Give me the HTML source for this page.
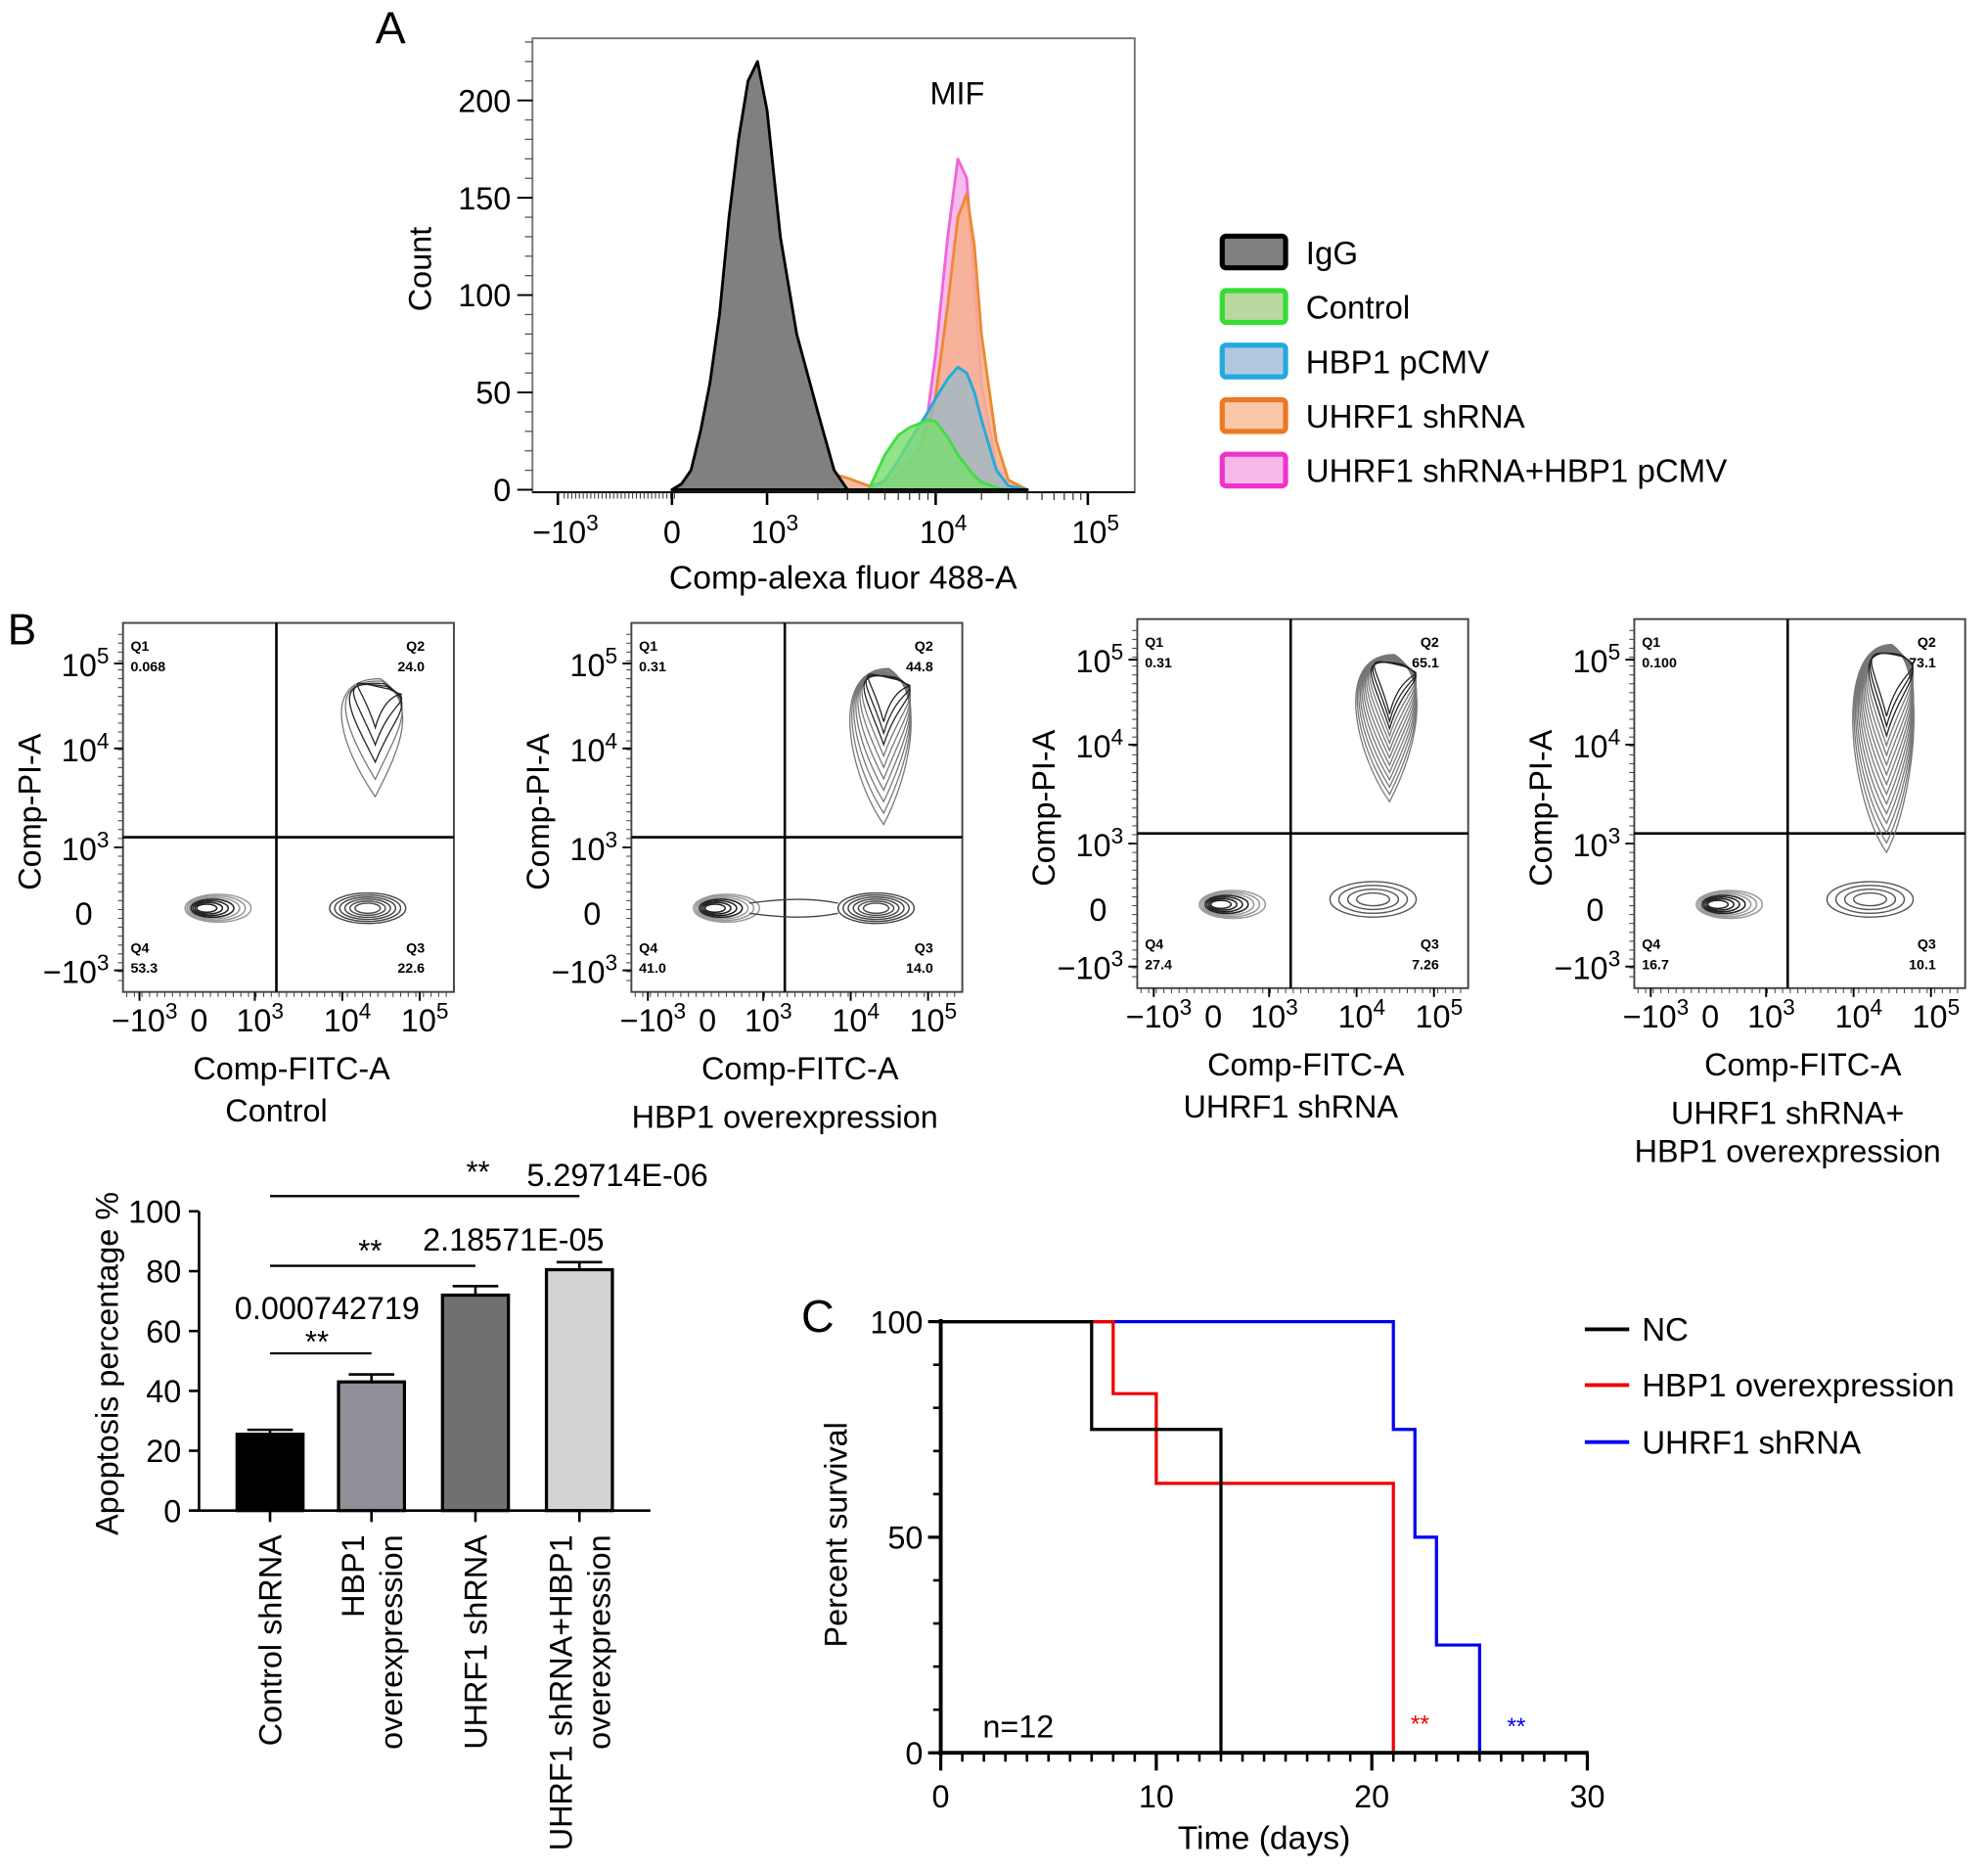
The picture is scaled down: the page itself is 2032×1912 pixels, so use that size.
<!DOCTYPE html>
<html><head><meta charset="utf-8"><style>
html,body{margin:0;padding:0;background:#fff;}
svg{display:block;font-family:"Liberation Sans",Arial,sans-serif;}
</style></head><body>
<svg id="fig" width="2032" height="1912" viewBox="0 0 1568 1475" xmlns="http://www.w3.org/2000/svg">
<g id="panelA"></g>
<g id="panelB"></g>
<g id="panelBar"></g>
<g id="panelC"></g>
</svg>
<script>
// ---------- Panel A data ----------
const histX = [0,100,200,300,400,500,600,700,800,900,1000,1200,1500,2000,2500,3000,4000,5000,6000,7000,8000,9000,10000,12000,14000,16000,18000,20000,25000,30000,40000];
const igG   = [0,3,10,30,55,90,140,180,210,220,195,130,80,40,10,0,0,0,0,0,0,0,0,0,0,0,0,0,0,0,0];
const pinkS = [0,0,0,0,0,0,0,0,0,0,0,0,0,0,0,0,0,0,2,8,20,40,70,130,170,160,105,55,12,2,0];
const orangeS=[0,0,0,1,2,3,4,5,5,6,7,8,9,10,8,6,2,4,8,14,22,32,48,95,140,152,125,80,25,5,0];
const blueS = [0,0,0,0,0,0,0,0,0,0,0,0,0,0,0,0,0,5,15,25,33,40,47,57,63,60,50,36,10,2,0];
const greenS= [0,0,0,0,0,0,0,0,0,0,0,0,0,0,0,0,0,18,28,32,34,36,35,27,18,12,7,4,1,0,0];
const histYTicks=[0,50,100,150,200];
const legendLabels=["IgG","Control","HBP1 pCMV","UHRF1 shRNA","UHRF1 shRNA+HBP1 pCMV"];
// ---------- Bar data ----------
const barCats=["Control shRNA","HBP1 overexpression","UHRF1 shRNA","UHRF1 shRNA+HBP1 overexpression"];
const barVals=[25.5,43,72,80.5];
const barErr=[1.5,2.5,3,2.5];
const barTicks=[0,20,40,60,80,100];
const sigLabels=["0.000742719","2.18571E-05","5.29714E-06"];
// ---------- Survival data ----------
const ncT=[0,7,13]; const ncS=[100,75,0];
const hbT=[0,8,10,21]; const hbS=[100,83.3,62.5,0];
const uhT=[0,21,22,23,25]; const uhS=[100,75,50,25,0];
const survXTicks=[0,10,20,30]; const survYTicks=[0,50,100];
// ---------- Flow quadrant values ----------
const quadVals=[["0.068","24.0","22.6","53.3"],["0.31","44.8","14.0","41.0"],["0.31","65.1","7.26","27.4"],["0.100","73.1","10.1","16.7"]];
const flowTitles=[["Control"],["HBP1 overexpression"],["UHRF1 shRNA"],["UHRF1 shRNA+","HBP1 overexpression"]];

const FS=25;
const NS="http://www.w3.org/2000/svg";
function el(parent,tag,attrs,text){const e=document.createElementNS(NS,tag);for(const k in attrs)e.setAttribute(k,attrs[k]);if(text!==undefined)e.textContent=text;parent.appendChild(e);return e;}
function supText(parent,x,y,base,sup,size,anchor){const t=el(parent,'text',{x:x,y:y,'font-size':size,'text-anchor':anchor||'middle'});t.textContent=base;const s=document.createElementNS(NS,'tspan');s.setAttribute('dy',-size*0.4);s.setAttribute('font-size',size*0.7);s.textContent=sup;t.appendChild(s);return t;}

// ===== Panel A =====
const A=document.getElementById('panelA');
const ax={l:420,r:895,t:30,b:386};
function hx(v){ if(v<=1000) return 530+v*0.075; const d=[[1000,605],[10000,738],[100000,858]]; for(let i=0;i<2;i++){if(v<=d[i+1][0]){return d[i][1]+(d[i+1][1]-d[i][1])*Math.log10(v/d[i][0]);}} return 858;}
function hy(c){return 386-c*1.535;}
el(A,'text',{x:296,y:34,'font-size':36},'A');
el(A,'rect',{x:ax.l,y:ax.t,width:ax.r-ax.l,height:ax.b-ax.t+2,fill:'none',stroke:'#777','stroke-width':1.5});
const series=[[pinkS,'rgba(246,170,232,0.8)','#ef66d6','hist-uhrf1-shrna-hbp1'],[orangeS,'rgba(246,176,140,0.85)','#ee8833','hist-uhrf1-shrna'],[blueS,'rgba(150,185,200,0.75)','#22aadd','hist-hbp1-pcmv'],[greenS,'rgba(120,220,110,0.8)','#44dd44','hist-control'],[igG,'rgba(128,128,128,1)','#000','hist-igg']];
series.forEach(s=>{let d='M'+hx(histX[0])+','+hy(0);histX.forEach((v,i)=>{d+=' L'+hx(v).toFixed(1)+','+hy(s[0][i]).toFixed(1);});d+=' L'+hx(histX[histX.length-1])+','+hy(0)+' Z';const p=el(A,'path',{d:d,fill:s[1],stroke:s[2],'stroke-width':2.2,'stroke-linejoin':'round'});});
el(A,'line',{x1:ax.l,y1:388,x2:ax.r,y2:388,stroke:'#000','stroke-width':1.5});
histYTicks.forEach(c=>{el(A,'line',{x1:408,y1:hy(c),x2:ax.l,y2:hy(c),stroke:'#000','stroke-width':1.5});el(A,'text',{x:403,y:hy(c)+9,'font-size':FS,'text-anchor':'end'},String(c));});
for(let c=10;c<=230;c+=10){if(c%50)el(A,'line',{x1:414,y1:hy(c),x2:ax.l,y2:hy(c),stroke:'#555','stroke-width':1});}
[[-1000,440,'−10','3'],[0,530,'0',''],[1000,605,'10','3'],[10000,738,'10','4'],[100000,858,'10','5']].forEach(t=>{el(A,'line',{x1:t[1],y1:388,x2:t[1],y2:398,stroke:'#000','stroke-width':2});if(t[3])supText(A,t[1]+6,428,t[2],t[3],FS);else el(A,'text',{x:t[1],y:428,'font-size':FS,'text-anchor':'middle'},'0');});
for(let i=0;i<30;i++){const x=445+i*3;el(A,'line',{x1:x,y1:388,x2:x,y2:393,stroke:'#333','stroke-width':0.8});}
[2,3,4,5,6,7,8,9].forEach(m=>{[1000,10000].forEach(b=>{const x=hx(b*m);el(A,'line',{x1:x,y1:388,x2:x,y2:394,stroke:'#333','stroke-width':1});});});
el(A,'text',{x:665,y:464,'font-size':FS+1,'text-anchor':'middle'},'Comp-alexa fluor 488-A');
el(A,'text',{x:0,y:0,'font-size':FS,'text-anchor':'middle',transform:'translate(340,212) rotate(-90)'},'Count');
el(A,'text',{x:755,y:82,'font-size':FS,'text-anchor':'middle'},'MIF');
const legCols=[['#808080','#000'],['#b8d8a0','#33dd33'],['#b0c8e0','#22aadd'],['#f8c8a8','#ee7722'],['#f6b8e8','#ee33cc']];
legendLabels.forEach((lab,i)=>{const y=186+i*43;const g=el(A,'g',{});el(g,'rect',{x:964,y:y,width:50,height:25,rx:3,fill:legCols[i][0],stroke:legCols[i][1],'stroke-width':4});el(g,'text',{x:1030,y:y+22,'font-size':FS+0.5},lab);});

// ===== Panel B flow plots =====
const B=document.getElementById('panelB');
el(B,'text',{x:6,y:508,'font-size':34},'B');
const offs=[[0,0],[401,0],[800,-3],[1192,-3]];
offs.forEach((o,k)=>{
  const g=el(B,'g',{transform:`translate(${o[0]},${o[1]})`});
  
  
  el(g,'rect',{x:97,y:491,width:261,height:291,fill:'none',stroke:'#444','stroke-width':1.5});
  el(g,'line',{x1:218,y1:491,x2:218,y2:782,stroke:'#000','stroke-width':2});
  el(g,'line',{x1:97,y1:660,x2:358,y2:660,stroke:'#000','stroke-width':2});
  [[523,'10','5'],[590,'10','4'],[668,'10','3'],[765,'−10','3']].forEach(t=>{el(g,'line',{x1:90,y1:t[0],x2:97,y2:t[0],stroke:'#000','stroke-width':1.5});supText(g,86,t[0]+10,t[1],t[2],FS,'end');});
  el(g,'text',{x:73,y:729,'font-size':FS,'text-anchor':'end'},'0');
  for(let y=500;y<780;y+=7)el(g,'line',{x1:93,y1:y,x2:97,y2:y,stroke:'#444','stroke-width':0.8});
  [[112,'−10','3'],[203,'10','3'],[272,'10','4'],[333,'10','5']].forEach(t=>{el(g,'line',{x1:t[0]-2,y1:782,x2:t[0]-2,y2:789,stroke:'#000','stroke-width':1.5});supText(g,t[0]+2,813,t[1],t[2],FS);});
  el(g,'text',{x:157,y:813,'font-size':FS,'text-anchor':'middle'},'0');
  for(let x=100;x<355;x+=6)el(g,'line',{x1:x,y1:782,x2:x,y2:786,stroke:'#444','stroke-width':0.8});
  el(g,'text',{x:230,y:851,'font-size':FS,'text-anchor':'middle'},'Comp-FITC-A');
  flowTitles[k].forEach((t,j)=>el(g,'text',{x:218,y:(k===0?884:(k===2?884:889))+j*30,'font-size':FS,'text-anchor':'middle'},t));
  el(g,'text',{x:0,y:0,'font-size':FS,'text-anchor':'middle',transform:'translate(32,640) rotate(-90)'},'Comp-PI-A');
  const q=quadVals[k];
  [['Q1',103,513,'start',q[0]],['Q2',335,513,'end',q[1]],['Q3',335,751,'end',q[2]],['Q4',103,751,'start',q[3]]].forEach(t=>{el(g,'text',{x:t[1],y:t[2],'font-size':11,'font-weight':'bold','text-anchor':t[3]},t[0]);el(g,'text',{x:t[1],y:t[2]+16,'font-size':11,'font-weight':'bold','text-anchor':t[3]},t[4]);});
  for(let i=0;i<7;i++){el(g,'ellipse',{cx:172-i*1.5,cy:716,rx:26-i*3,ry:11-i*1.3,fill:'none',stroke:i<3?'#999':'#222','stroke-width':1.2});}
  if(k<2){for(let i=0;i<6;i++)el(g,'ellipse',{cx:290,cy:716,rx:30-i*4,ry:12-i*1.6,fill:'none',stroke:'#444','stroke-width':1.1});}
  if(k===1){el(g,'path',{d:'M190,712 C220,708 240,708 260,712 M190,720 C220,724 240,724 260,720',fill:'none',stroke:'#444','stroke-width':1});}
  if(k>=2){for(let i=0;i<4;i++)el(g,'ellipse',{cx:283,cy:712,rx:34-i*7,ry:14-i*3,fill:'none',stroke:'#555','stroke-width':1.1});}
  const n=[5,10,13,15][k];const tipY=[628,650,635,675][k];
  for(let i=0;i<n;i++){const f=i/n;const top=535-k*8;const bot=tipY-f*(tipY-560);const w=28*(1-f*0.7);el(g,'path',{d:`M${300+f*8},${top+f*10} C${300-w-20},${top} ${296-w},${bot-40} ${296},${bot} C${300+w*0.6},${bot-40} ${330},${top+20} ${300+f*8},${top+f*10} Z`,fill:'none',stroke:i>n-4?'#222':'#777','stroke-width':1});}
});

// ===== Bar chart =====
const Bc=document.getElementById('panelBar');
function by(v){return 1191-v*2.36;}
const bx=[213,293,375,457];
const barFill=['#000','#909098','#707070','#d2d2d2'];
el(Bc,'line',{x1:157,y1:955,x2:157,y2:1192,stroke:'#000','stroke-width':2});
el(Bc,'line',{x1:149,y1:1191,x2:513,y2:1191,stroke:'#000','stroke-width':2});
barTicks.forEach(v=>{el(Bc,'line',{x1:149,y1:by(v),x2:157,y2:by(v),stroke:'#000','stroke-width':2});el(Bc,'text',{x:143,y:by(v)+9,'font-size':FS,'text-anchor':'end'},String(v));});
barVals.forEach((v,i)=>{
  el(Bc,'line',{x1:bx[i],y1:by(v),x2:bx[i],y2:by(v+barErr[i]),stroke:'#000','stroke-width':2});
  el(Bc,'line',{x1:bx[i]-18,y1:by(v+barErr[i]),x2:bx[i]+18,y2:by(v+barErr[i]),stroke:'#000','stroke-width':2});
  const r=el(Bc,'rect',{x:bx[i]-26,y:by(v),width:52,height:by(0)-by(v),fill:barFill[i],stroke:'#000','stroke-width':2.5});
  
  
  el(Bc,'line',{x1:bx[i],y1:1191,x2:bx[i],y2:1200,stroke:'#000','stroke-width':2});
});
[[bx[0],'Control shRNA'],[bx[2],'UHRF1 shRNA']].forEach(t=>el(Bc,'text',{x:0,y:0,'font-size':FS,'text-anchor':'end',transform:`translate(${t[0]+9},1210) rotate(-90)`},t[1]));
[[bx[1]-6,'HBP1'],[bx[1]+24,'overexpression'],[bx[3]-6,'UHRF1 shRNA+HBP1'],[bx[3]+24,'overexpression']].forEach(t=>el(Bc,'text',{x:0,y:0,'font-size':FS,'text-anchor':'end',transform:`translate(${t[0]},1210) rotate(-90)`},t[1]));
el(Bc,'text',{x:0,y:0,'font-size':FS,'text-anchor':'middle',transform:'translate(93,1075) rotate(-90)'},'Apoptosis percentage %');
[[bx[1],1067,250,1066,258,1040],[bx[2],998,292,994,405,986],[bx[3],943,377,932,487,935]].forEach((s,i)=>{el(Bc,'line',{x1:213,y1:s[1],x2:s[0],y2:s[1],stroke:'#000','stroke-width':1.8});el(Bc,'text',{x:s[2],y:s[3],'font-size':24,'text-anchor':'middle'},'**');el(Bc,'text',{x:s[4],y:s[5],'font-size':FS,'text-anchor':'middle'},sigLabels[i]);});

// ===== Survival =====
const C=document.getElementById('panelC');
function sx(t){return 742+t*17;}
function sy(p){return 1382-p*3.4;}
el(C,'text',{x:632,y:1050,'font-size':36},'C');
function kmPath(T,S){let d=`M${sx(T[0])},${sy(S[0])}`;for(let i=1;i<T.length;i++){d+=` H${sx(T[i])} V${sy(S[i])}`;}return d;}
[[uhT,uhS,'#0000ee','km-uhrf1-shrna'],[hbT,hbS,'#ee0000','km-hbp1-overexpression'],[ncT,ncS,'#000','km-nc']].forEach(s=>{const p=el(C,'path',{d:kmPath(s[0],s[1]),fill:'none',stroke:s[2],'stroke-width':2.5});});
el(C,'line',{x1:742,y1:1040,x2:742,y2:1384,stroke:'#000','stroke-width':3});
el(C,'line',{x1:740,y1:1382,x2:1253,y2:1382,stroke:'#000','stroke-width':3});
survYTicks.forEach(v=>{el(C,'line',{x1:732,y1:sy(v),x2:742,y2:sy(v),stroke:'#000','stroke-width':2.5});el(C,'text',{x:728,y:sy(v)+9,'font-size':FS,'text-anchor':'end'},String(v));});
for(let v=10;v<100;v+=10){if(v!==50)el(C,'line',{x1:736,y1:sy(v),x2:742,y2:sy(v),stroke:'#000','stroke-width':2});}
for(let t=1;t<30;t++){if(t%10)el(C,'line',{x1:sx(t),y1:1382,x2:sx(t),y2:1389,stroke:'#000','stroke-width':2});}
survXTicks.forEach(t=>{el(C,'line',{x1:sx(t),y1:1382,x2:sx(t),y2:1396,stroke:'#000','stroke-width':2.5});el(C,'text',{x:sx(t),y:1425,'font-size':FS,'text-anchor':'middle'},String(t));});
el(C,'text',{x:997,y:1458,'font-size':FS+1,'text-anchor':'middle'},'Time (days)');
el(C,'text',{x:0,y:0,'font-size':FS,'text-anchor':'middle',transform:'translate(668,1210) rotate(-90)'},'Percent survival');
el(C,'text',{x:775,y:1370,'font-size':FS},'n=12');
el(C,'text',{x:1120,y:1366,'font-size':19,fill:'#ee0000','text-anchor':'middle'},'**');
el(C,'text',{x:1196,y:1368,'font-size':19,fill:'#0000ee','text-anchor':'middle'},'**');
[['NC','#000',1048],['HBP1 overexpression','#ee0000',1092],['UHRF1 shRNA','#0000ee',1137]].forEach(l=>{const g=el(C,'g',{});el(g,'line',{x1:1250,y1:l[2],x2:1285,y2:l[2],stroke:l[1],'stroke-width':3});el(g,'text',{x:1295,y:l[2]+9,'font-size':FS+0.5},l[0]);});
</script>
</body></html>
